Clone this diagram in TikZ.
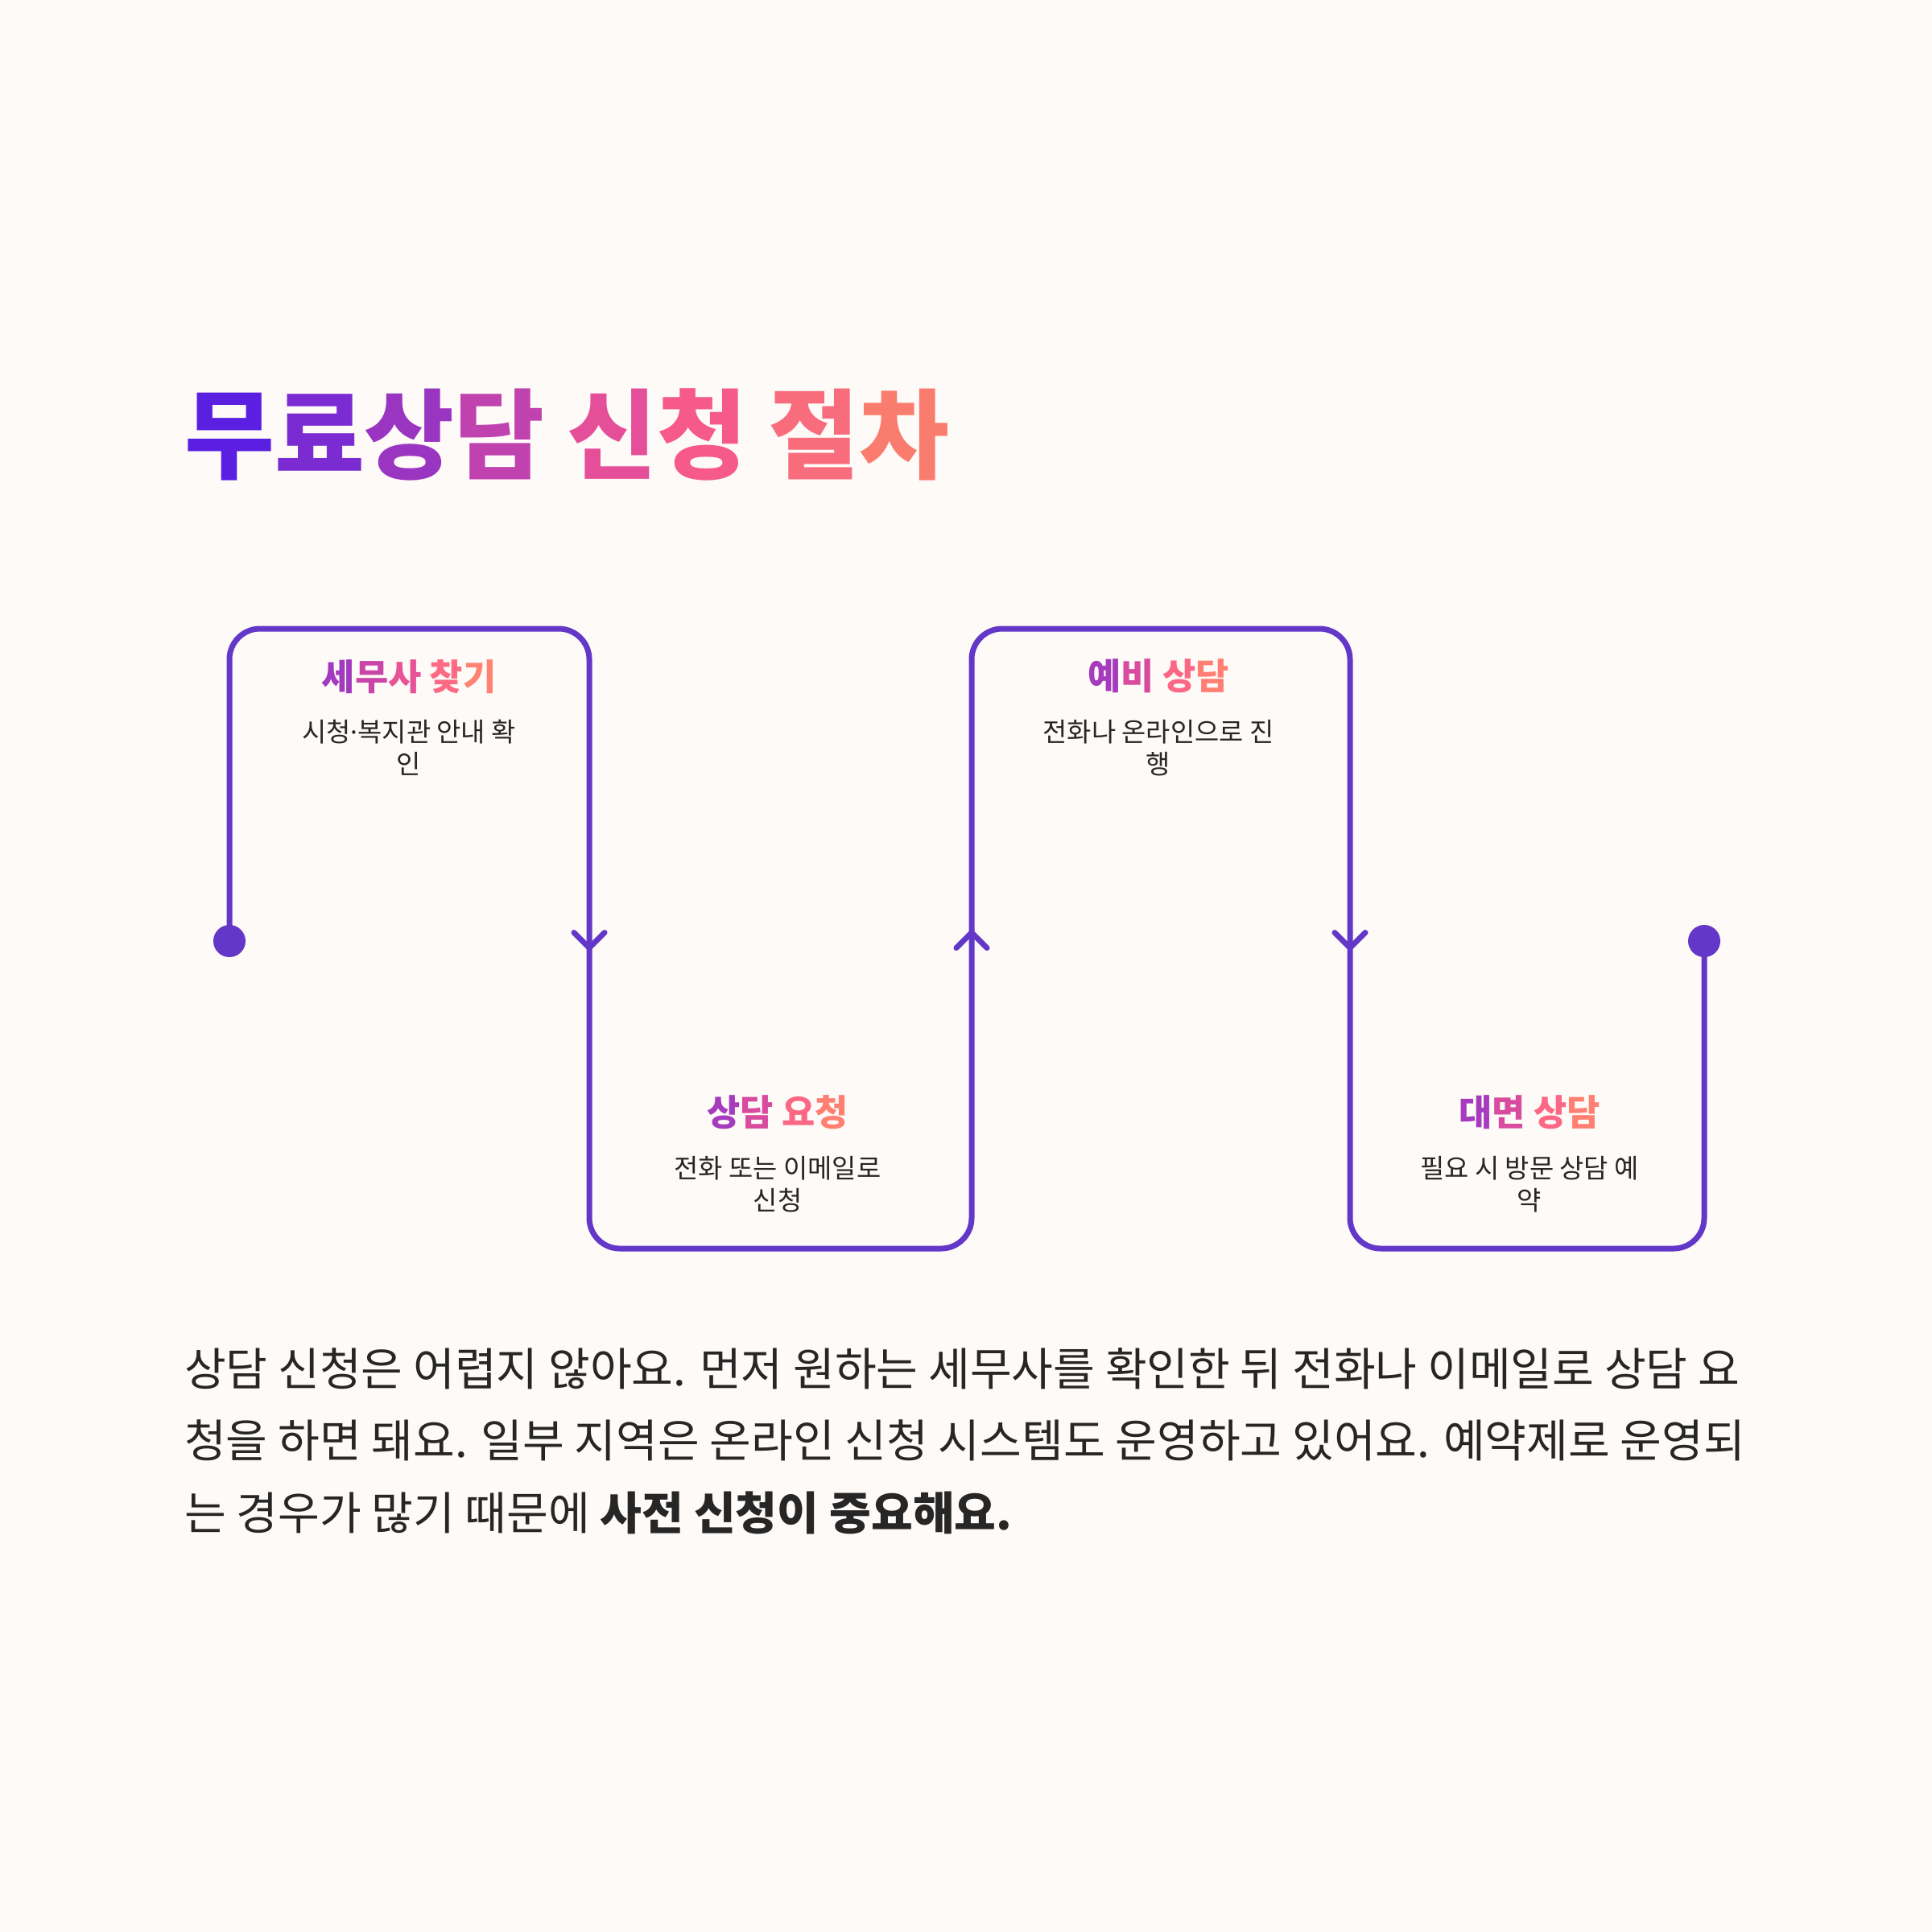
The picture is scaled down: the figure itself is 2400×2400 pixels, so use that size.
\documentclass[tikz,border=0pt]{standalone}
\usepackage{fontspec}
\setmainfont{Noto Sans CJK KR}
\newfontfamily\latinfont{Noto Sans}
\definecolor{bg}{HTML}{FDFAF7}
\definecolor{pathc}{HTML}{6338C8}
\definecolor{ink}{HTML}{262626}
\newcommand\gc[2]{\textcolor[HTML]{#1}{#2}}
\tikzset{
  flow/.style={draw=pathc, line width=7bp, rounded corners=38bp, line join=round},
  chev/.style={draw=pathc, line width=7bp, line cap=round, line join=miter},
  enddot/.style={fill=pathc},
  steptitle/.style={font=\fontsize{45}{54}\selectfont\bfseries, inner sep=0pt, anchor=center},
  stepdesc/.style={font=\fontsize{33}{40}\selectfont, text=ink, inner sep=0pt, align=center, anchor=center},
}
\begin{document}
\begin{tikzpicture}[x=1bp,y=-1bp]
\fill[bg] (0,0) rectangle (2400,2400);
\useasboundingbox (0,0) rectangle (2400,2400);

% title
\node[anchor=west, inner sep=0pt, font=\fontsize{122}{140}\selectfont\bfseries] (title) at (229,540)
 {\gc{5B1FE2}{무}\gc{7A2BD2}{료}\gc{9A35C2}{상}\gc{BF42AE}{담} \gc{E54E98}{신}\gc{F55A8A}{청} \gc{F86C7C}{절}\gc{F97C6E}{차}};

% path coordinates
\coordinate (s)  at (285,1169);
\coordinate (c1) at (285,781);
\coordinate (c2) at (732,781);
\coordinate (c3) at (732,1551);
\coordinate (c4) at (1207,1551);
\coordinate (c5) at (1207,781);
\coordinate (c6) at (1677,781);
\coordinate (c7) at (1677,1551);
\coordinate (c8) at (2117,1551);
\coordinate (e)  at (2117,1169);

\draw[flow] (s) -- (c1) -- (c2) -- (c3) -- (c4) -- (c5) -- (c6) -- (c7) -- (c8) -- (e);
\fill[enddot] (s) circle[radius=20bp];
\fill[enddot] (e) circle[radius=20bp];

% chevrons
\coordinate (a1) at (732,1168);
\coordinate (a2) at (1207,1168);
\coordinate (a3) at (1677,1168);
\draw[chev] ([shift={(-19,-9.5)}]a1) -- ([shift={(0,9.5)}]a1) -- ([shift={(19,-9.5)}]a1);
\draw[chev] ([shift={(-19,9.5)}]a2) -- ([shift={(0,-9.5)}]a2) -- ([shift={(19,9.5)}]a2);
\draw[chev] ([shift={(-19,-9.5)}]a3) -- ([shift={(0,9.5)}]a3) -- ([shift={(19,-9.5)}]a3);

% step 1
\node[steptitle] (t1) at (508,841) {\gc{A23ABF}{세}\gc{C946A8}{무}\gc{E85296}{사} \gc{FC6A84}{찾}\gc{FF8272}{기}};
\node[stepdesc] (d1) at (508,929) {시청{\latinfont ·}복지관 안내 확\\인};
% step 2
\node[steptitle] (t2) at (966,1382) {\gc{A63BBD}{상}\gc{D84B9F}{담} \gc{FC6785}{요}\gc{FF8073}{청}};
\node[stepdesc] (d2) at (966,1471) {전화 또는 이메일로\\신청};
% step 3
\node[steptitle] (t3) at (1439,840) {\gc{A63BBD}{예}\gc{D84B9F}{비} \gc{FC6785}{상}\gc{FF8073}{담}};
\node[stepdesc] (d3) at (1439,929) {전화나 온라인으로 진\\행};
% step 4
\node[steptitle] (t4) at (1900,1382) {\gc{A63BBD}{대}\gc{D84B9F}{면} \gc{FC6785}{상}\gc{FF8073}{담}};
\node[stepdesc] (d4) at (1900,1471) {필요 시 방문 상담 예\\약};

% body
\node[anchor=west, inner sep=0pt, align=left, text=ink, font=\fontsize{56.5}{90}\selectfont] (body) at (229,1790)
 {상담 신청은 어렵지 않아요. 먼저 원하는 세무사를 확인한 뒤 전화나 이메일로 상담 요\\
  청을 하면 돼요. 일부 지역은 온라인 신청 시스템도 운영하고 있어요. 예약제로 운영되\\
  는 경우가 많기 때문에 \textbf{사전 신청이 중요해요.}};
\end{tikzpicture}
\end{document}
